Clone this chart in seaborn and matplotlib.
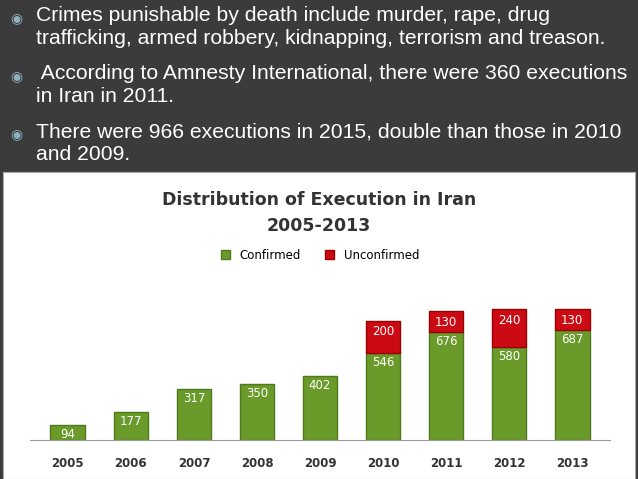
import matplotlib
matplotlib.use("Agg")
import matplotlib.pyplot as plt
import seaborn as sns
import pandas as pd

years = ["2005","2006","2007","2008","2009","2010","2011","2012","2013"]
confirmed = [94,177,317,350,402,546,676,580,687]
unconfirmed = [0,0,0,0,0,200,130,240,130]
bullets = [
    "Crimes punishable by death include murder, rape, drug\ntrafficking, armed robbery, kidnapping, terrorism and treason.",
    " According to Amnesty International, there were 360 executions\nin Iran in 2011.",
    "There were 966 executions in 2015, double than those in 2010\nand 2009.",
]

W, H = 638, 479
fig = plt.figure(figsize=(W/100, H/100), dpi=100)
fig.patch.set_facecolor("#3b3b3b")
bg = fig.add_axes([3/W, 0, 632/W, (H-172)/H])
bg.set_facecolor("white"); bg.set_xticks([]); bg.set_yticks([])
for s in bg.spines.values():
    s.set_color("#aaaaaa")
bg.set_zorder(0)

ys = [6, 64, 122]
for y, b in zip(ys, bullets):
    fig.text(10/W, 1-(y+5)/H, "\u25c9", color="#8fb0c0", fontsize=10, va="top")
    fig.text(36/W, 1-y/H, b, color="white", fontsize=15.2, va="top",
             family="Liberation Sans", linespacing=1.3)

fig.text(0.5, 1-200/H, "Distribution of Execution in Iran", ha="center", va="center",
         fontsize=12.5, fontweight="bold", color="#333333")
fig.text(0.5, 1-226/H, "2005-2013", ha="center", va="center",
         fontsize=12.5, fontweight="bold", color="#333333")

ax = fig.add_axes([30/W, 39/H, 580/W, 160/H])
ax.set_zorder(2)
df = pd.DataFrame({"year": years, "Confirmed": confirmed, "Unconfirmed": unconfirmed})
sns.barplot(data=df, x="year", y="Confirmed", color="#6a9a2a", width=0.55, ax=ax,
            saturation=1, edgecolor="#4e7a1c", label="Confirmed")
idx = [i for i, u in enumerate(unconfirmed) if u]
ax.bar(idx, [unconfirmed[i] for i in idx], bottom=[confirmed[i] for i in idx], width=0.55,
       color="#cc0a14", edgecolor="#990000", label="Unconfirmed")
ax.set_ylim(0, 1000)
ax.set_xlim(-0.6, 8.6)
for i, (c, u) in enumerate(zip(confirmed, unconfirmed)):
    ax.text(i, c - 20, str(c), ha="center", va="top", color="white", fontsize=8.5)
    if u:
        ax.text(i, c + u - 30, str(u), ha="center", va="top", color="white", fontsize=8.5)
ax.set_xlabel(""); ax.set_ylabel("")
ax.set_yticks([])
ax.tick_params(axis="x", length=0, pad=12, labelsize=8.5, labelcolor="#333333")
for t in ax.get_xticklabels():
    t.set_fontweight("bold")
for s in ["top", "right", "left"]:
    ax.spines[s].set_visible(False)
ax.spines["bottom"].set_color("#999999")
ax.set_facecolor("none")
ax.legend(loc="upper center", bbox_to_anchor=(0.5, 1.26), ncol=2, frameon=False,
          fontsize=8.5, handlelength=0.8, handleheight=0.8)
fig.savefig("out.png", dpi=100, facecolor=fig.get_facecolor())
